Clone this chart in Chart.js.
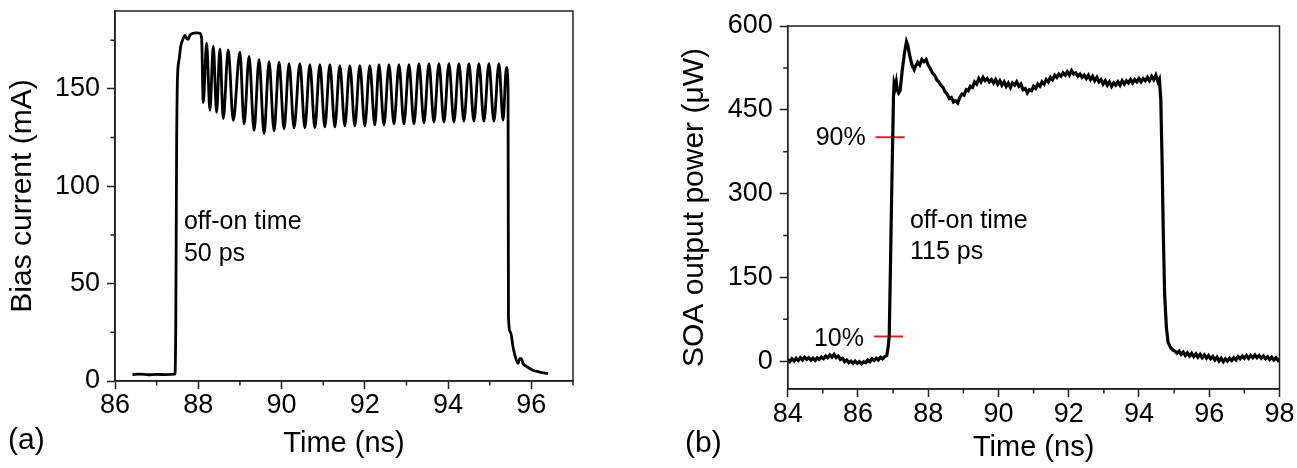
<!DOCTYPE html>
<html><head><meta charset="utf-8">
<script src="https://cdn.jsdelivr.net/npm/chart.js@4/dist/chart.umd.min.js"></script>
<style>
html,body{margin:0;padding:0;background:#fff;width:1297px;height:468px;overflow:hidden}
canvas{position:absolute;top:0}
#c1{left:0}
#c2{left:650px}
</style></head><body>
<canvas id="c1" width="650" height="468"></canvas>
<canvas id="c2" width="647" height="468"></canvas>
<script>
// ---------- DATA ----------
// Panel (a): bias current (mA) vs time (ns)
const biasTrace = [
[86.42,3.3],[86.6,3.5],[86.8,3.2],[87.0,3.4],[87.2,3.3],[87.44,3.5],
[87.46,30],[87.48,120],[87.50,155],[87.54,165],[87.58,172],[87.64,176],[87.68,177.5],[87.72,176],[87.76,175.5],[87.80,177.5],[87.86,178.5],[87.95,178.8],[88.04,178.5],[88.08,176],
[88.12,143],[88.20,173.5],[88.28,139],[88.36,172],[88.44,138],[88.52,170.6],[88.60,134.7],[88.72,170],[88.84,133.8],[89.00,168.9],
[89.10,132],[89.22,166.7],[89.34,128.7],[89.46,165],[89.58,127],[89.70,164],[89.82,128.5],[89.94,163.7],[90.06,129.5],[90.18,163],
[90.30,130],[90.44,163],[90.56,130],[90.68,162.5],[90.80,130],[90.92,162.5],[91.04,130.5],[91.16,162.5],[91.28,130.5],[91.40,162],
[91.52,131],[91.64,162],[91.76,131],[91.88,162],[92.00,131],[92.12,162],[92.24,131.5],[92.34,162.5],[92.46,131.5],[92.58,162.5],
[92.70,132],[92.82,162.5],[92.94,132],[93.06,162.5],[93.18,132],[93.30,163],[93.42,132.5],[93.54,163],[93.66,133],[93.78,163],
[93.90,133],[94.02,163],[94.14,133],[94.26,163],[94.38,133.5],[94.50,163],[94.62,133.5],[94.74,163],[94.86,133.5],[94.98,163],
[95.10,133.5],[95.22,163],[95.32,134],[95.40,161],
[95.44,150],[95.45,33],[95.50,25],[95.56,17.5],[95.62,12],[95.68,9],[95.72,11.5],[95.76,11.5],[95.80,9],[95.88,7.5],[96.04,5.5],[96.2,4.6],[96.4,3.8]
];
// Panel (b): SOA output power (uW) vs time (ns)
const powerTrace = [
[84.00,3],[84.06,-1],[84.12,4],[84.18,0],[84.24,5],[84.30,1],[84.36,6],[84.42,2],[84.48,7],[84.54,3],
[84.60,6],[84.66,2],[84.72,5],[84.78,1],[84.84,6],[84.90,3],[84.96,7],[85.02,4],[85.08,9],[85.14,6],
[85.20,11],[85.26,7],[85.32,12],[85.38,6],[85.44,9],[85.50,3],[85.56,5],[85.62,-1],[85.68,2],[85.74,-3],
[85.80,0],[85.86,-4],[85.92,0],[85.98,-4],[86.04,-1],[86.10,-5],[86.16,-1],[86.22,-3],[86.28,2],[86.34,-1],
[86.40,4],[86.46,1],[86.52,5],[86.58,2],[86.64,7],[86.70,4],[86.76,8],[86.82,10],
[86.86,25],[86.89,44],[86.92,150],[86.96,300],[86.99,401],[87.01,470],[87.03,497],[87.06,490],[87.09,500],[87.12,485],
[87.16,480],[87.20,484],[87.26,520],[87.32,550],[87.38,572],[87.42,565],[87.48,545],[87.54,530],[87.60,522],[87.64,528],
[87.70,535],[87.76,530],[87.82,540],[87.88,536],[87.94,540],[88.00,530],[88.06,524],[88.12,516],[88.18,512],[88.24,504],
[88.30,500],[88.36,494],[88.42,490],[88.48,482],[88.54,478],[88.60,470],[88.66,472],[88.72,464],[88.78,466],[88.84,462],
[88.90,472],[88.96,478],[89.02,476],[89.08,486],[89.14,484],[89.20,492],[89.26,490],[89.32,500],[89.38,496],[89.44,506],
[89.50,500],[89.56,508],[89.62,502],[89.68,506],[89.74,500],[89.80,504],[89.86,498],[89.92,504],[89.98,496],[90.04,502],
[90.10,494],[90.16,500],[90.22,492],[90.28,498],[90.34,490],[90.40,498],[90.46,494],[90.52,500],[90.58,492],[90.64,496],
[90.70,486],[90.76,488],[90.82,480],[90.88,486],[90.94,484],[91.00,492],[91.06,488],[91.12,496],[91.18,492],[91.24,500],
[91.30,496],[91.36,504],[91.42,500],[91.48,508],[91.54,504],[91.60,512],[91.66,508],[91.72,514],[91.78,510],[91.84,516],
[91.90,512],[91.96,518],[92.02,512],[92.08,520],[92.14,514],[92.20,516],[92.26,510],[92.32,514],[92.38,508],[92.44,512],
[92.50,506],[92.56,512],[92.62,504],[92.68,510],[92.74,502],[92.80,508],[92.86,500],[92.92,504],[92.98,496],[93.04,502],
[93.10,494],[93.16,500],[93.22,492],[93.28,498],[93.34,494],[93.40,500],[93.46,494],[93.52,502],[93.58,496],[93.64,502],
[93.70,498],[93.76,504],[93.82,498],[93.88,504],[93.94,500],[94.00,506],[94.06,500],[94.12,506],[94.18,502],[94.24,508],
[94.30,502],[94.36,510],[94.42,504],[94.48,512],[94.54,500],[94.58,505],
[94.62,470],[94.66,350],[94.69,235],[94.73,120],[94.78,60],[94.83,33],[94.90,24],[94.96,20],[95.02,18],[95.08,14],
[95.14,18],[95.20,12],[95.26,16],[95.32,10],[95.38,15],[95.44,9],[95.50,14],[95.56,8],[95.62,13],[95.68,7],
[95.74,12],[95.80,6],[95.86,11],[95.92,5],[95.98,10],[96.04,4],[96.10,8],[96.16,2],[96.22,7],[96.28,0],
[96.34,5],[96.40,-1],[96.46,4],[96.52,0],[96.58,5],[96.64,1],[96.70,6],[96.76,2],[96.82,8],[96.88,4],
[96.94,9],[97.00,5],[97.06,10],[97.12,5],[97.18,10],[97.24,6],[97.30,11],[97.36,6],[97.42,10],[97.48,5],
[97.54,9],[97.60,4],[97.66,8],[97.72,3],[97.78,7],[97.84,2],[97.90,6],[97.96,1],[98.00,4]
];
// 10% / 90% markers (uW) and their time span (ns)
const level90 = [[86.5,401],[87.33,401]];
const level10 = [[86.46,44],[87.29,44]];

// Axis ranges and ticks
const xRangeA = [86, 97], yRangeA = [0, 190];
const xTicksA = [86, 88, 90, 92, 94, 96], xMinorA = [87, 89, 91, 93, 95, 97];
const yTicksA = [0, 50, 100, 150], yMinorA = [25, 75, 125, 175];
const xRangeB = [84, 98], yRangeB = [-50, 600];
const xTicksB = [84, 86, 88, 90, 92, 94, 96, 98], xMinorB = [85, 87, 89, 91, 93, 95, 97];
const yTicksB = [0, 150, 300, 450, 600], yMinorB = [75, 225, 375, 525];

// ---------- STYLE ----------
const FONT = "'Liberation Sans', Arial, sans-serif";
const AXIS = '#222';
const RED = '#e3201b';

const toXY = arr => arr.map(p => ({x: p[0], y: p[1]}));

const framePlugin = {
  id: 'frame',
  afterDraw(chart, args, opts) {
    const {ctx, chartArea: a} = chart;
    const x = chart.scales.x, y = chart.scales.y;
    ctx.save();
    ctx.strokeStyle = AXIS; ctx.lineWidth = 1.5;
    ctx.strokeRect(a.left, a.top, a.right - a.left, a.bottom - a.top);
    ctx.beginPath();
    opts.minorX.forEach(v => { const p = x.getPixelForValue(v); ctx.moveTo(p, a.bottom); ctx.lineTo(p, a.bottom + 4.5); });
    opts.minorY.forEach(v => { const p = y.getPixelForValue(v); ctx.moveTo(a.left, p); ctx.lineTo(a.left - 4.5, p); });
    ctx.stroke();
    opts.texts.forEach(t => {
      ctx.font = t.size + 'px ' + FONT;
      ctx.fillStyle = '#000';
      ctx.textAlign = t.align || 'left';
      ctx.textBaseline = 'alphabetic';
      const px = t.px !== undefined ? t.px : x.getPixelForValue(t.x);
      const py = t.py !== undefined ? t.py : y.getPixelForValue(t.y);
      ctx.fillText(t.text, px, py);
    });
    ctx.restore();
  }
};

function makeChart(id, cfg) {
  return new Chart(document.getElementById(id), {
    type: 'line',
    data: { datasets: cfg.datasets },
    plugins: [framePlugin],
    options: {
      responsive: false, animation: false, devicePixelRatio: 1,
      layout: { padding: cfg.padding },
      plugins: { legend: {display: false}, tooltip: {enabled: false},
                 frame: { minorX: cfg.minorX, minorY: cfg.minorY, texts: cfg.texts } },
      elements: { point: { radius: 0 } },
      scales: {
        x: {
          type: 'linear', position: 'bottom', min: cfg.xRange[0], max: cfg.xRange[1],
          afterBuildTicks: s => { s.ticks = cfg.xTicks.map(v => ({value: v})); },
          afterFit: s => { s.height = cfg.xHeight; s.paddingLeft = 0; s.paddingRight = 0; },
          ticks: { font: {family: FONT, size: 27}, color: '#000', padding: cfg.xTickPad, maxRotation: 0, autoSkip: false },
          grid: { drawOnChartArea: false, drawTicks: true, tickLength: 8, tickColor: AXIS, tickWidth: 1.5 },
          border: { display: true, color: AXIS, width: 1.5 },
          title: { display: true, text: 'Time (ns)', font: {family: FONT, size: 29}, color: '#000', padding: {top: 0, bottom: cfg.xTitlePad} }
        },
        y: {
          type: 'linear', position: 'left', min: cfg.yRange[0], max: cfg.yRange[1],
          afterBuildTicks: s => { s.ticks = cfg.yTicks.map(v => ({value: v})); },
          afterFit: s => { s.width = cfg.yWidth; s.paddingTop = 0; s.paddingBottom = 0; },
          ticks: { font: {family: FONT, size: 27}, color: '#000', padding: 7 },
          grid: { drawOnChartArea: false, drawTicks: true, tickLength: 8, tickColor: AXIS, tickWidth: 1.5 },
          border: { display: true, color: AXIS, width: 1.5 },
          title: { display: true, text: cfg.yTitle, font: {family: FONT, size: 30}, color: '#000', padding: {top: cfg.yTitlePad, bottom: 0} }
        }
      }
    }
  });
}

makeChart('c1', {
  datasets: [
    { data: toXY(biasTrace), borderColor: '#000', borderWidth: 2.8, cubicInterpolationMode: 'monotone', fill: false }
  ],
  padding: {top: 11, right: 77, bottom: 0, left: 0},
  xRange: xRangeA, yRange: yRangeA, xTicks: xTicksA, yTicks: yTicksA,
  minorX: xMinorA, minorY: yMinorA,
  xHeight: 87, yWidth: 115, xTickPad: 0, xTitlePad: 6.6, yTitlePad: 5,
  yTitle: 'Bias current (mA)',
  texts: [
    {text: 'off-on time', x: 87.656, y: 77.9, size: 25},
    {text: '50 ps', x: 87.656, y: 61.4, size: 25},
    {text: '(a)', px: 8, py: 449, size: 30}
  ]
});

makeChart('c2', {
  datasets: [
    { data: toXY(powerTrace), borderColor: '#000', borderWidth: 3.2, fill: false },
    { data: toXY(level90), borderColor: RED, borderWidth: 2, fill: false },
    { data: toXY(level10), borderColor: RED, borderWidth: 2, fill: false }
  ],
  padding: {top: 26, right: 17.5, bottom: 0, left: 0},
  xRange: xRangeB, yRange: yRangeB, xTicks: xTicksB, yTicks: yTicksB,
  minorX: xMinorB, minorY: yMinorB,
  xHeight: 79, yWidth: 137.7, xTickPad: 1.8, xTitlePad: 2.6, yTitlePad: 27,
  yTitle: 'SOA output power (\u03BCW)',
  texts: [
    {text: 'off-on time', x: 87.48, y: 237.5, size: 25},
    {text: '115 ps', x: 87.48, y: 183, size: 25},
    {text: '90%', x: 86.22, y: 387.5, size: 25, align: 'right'},
    {text: '10%', x: 86.17, y: 27.3, size: 25, align: 'right'},
    {text: '(b)', px: 35, py: 452, size: 30}
  ]
});
</script>
</body></html>
